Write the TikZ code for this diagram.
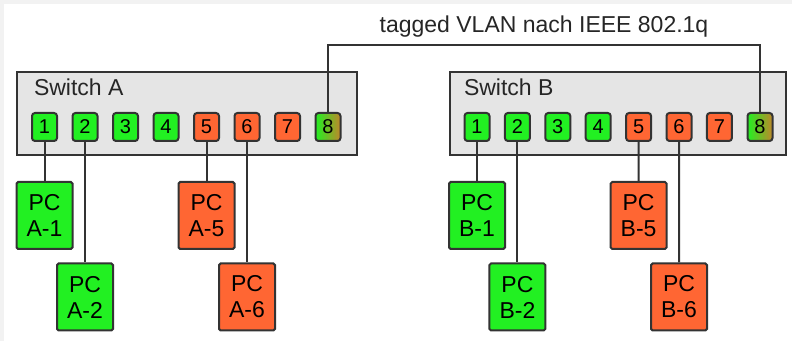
\documentclass[tikz,border=0pt]{standalone}
\usepackage{fontspec}
\setmainfont{Liberation Sans}
\usetikzlibrary{positioning}

\definecolor{pcgreen}{HTML}{22F022}
\definecolor{pcorange}{HTML}{FF6633}
\definecolor{tagbrown}{HTML}{C0862A}

\begin{document}
\begin{tikzpicture}[x=0.5pt,y=-0.5pt,line width=1pt,
	switch node/.style={draw=black!80,fill=black!10,minimum height=41.5pt,inner sep=0pt},
	port node/.style={draw=black!80,rounded corners=1.5pt,minimum width=12.5pt,
		minimum height=14pt,inner sep=0pt,font=\fontsize{10}{11}\selectfont},
	pc node/.style={draw=black!80,rounded corners=0.8pt,minimum width=28pt,
		minimum height=33.5pt,inner sep=0pt,align=center,font=\fontsize{11.5}{13}\selectfont},
	label node/.style={inner sep=0pt,font=\fontsize{11.5}{13}\selectfont,text=black!85}]

	% background
	\fill[black!5] (0,0) rectangle (792,341);
	\fill[white] (4,4) rectangle (792,341);
	\useasboundingbox (0,0) rectangle (792,341);

	% switches
	\node[switch node,minimum width=170pt] (swa) at (187,113.5) {};
	\node[switch node,minimum width=168pt] (swb) at (618,113.5) {};
	\node[label node,anchor=west] (swatxt) at (33,87) {Switch A};
	\node[label node,anchor=west] (swbtxt) at (463,87) {Switch B};

	% ports
	\foreach \i in {1,...,4} {
		\node[port node,fill=pcgreen] (a\i) at ({44.5+40.5*(\i-1)},127) {\i};
		\node[port node,fill=pcgreen] (b\i) at ({477+40.4*(\i-1)},127) {\i};
	}
	\foreach \i in {5,6,7} {
		\node[port node,fill=pcorange] (a\i) at ({44.5+40.5*(\i-1)},127) {\i};
		\node[port node,fill=pcorange] (b\i) at ({477+40.4*(\i-1)},127) {\i};
	}
	\node[port node,left color=pcgreen,right color=tagbrown] (a8) at (328,127) {8};
	\node[port node,left color=pcgreen,right color=tagbrown] (b8) at (760,127) {8};

	% PCs
	\node[pc node,fill=pcgreen] (pca1) at (44.5,215.5) {PC\\A-1};
	\node[pc node,fill=pcgreen] (pca2) at (85,297) {PC\\A-2};
	\node[pc node,fill=pcorange] (pca5) at (206.5,215.5) {PC\\A-5};
	\node[pc node,fill=pcorange] (pca6) at (247,297) {PC\\A-6};
	\node[pc node,fill=pcgreen] (pcb1) at (477,215.5) {PC\\B-1};
	\node[pc node,fill=pcgreen] (pcb2) at (517.4,297) {PC\\B-2};
	\node[pc node,fill=pcorange] (pcb5) at (638.6,215.5) {PC\\B-5};
	\node[pc node,fill=pcorange] (pcb6) at (679,297) {PC\\B-6};

	% trunk
	\coordinate (tag) at (544,45);
	\node[label node,anchor=base] (tagtxt) at (544,33) {tagged VLAN nach IEEE 802.1q};

	\path[draw=black!80]
	(a1) edge (pca1)
	(a2) edge (pca2)
	(a5) edge (pca5)
	(a6) edge (pca6)
	(b1) edge (pcb1)
	(b2) edge (pcb2)
	(b5) edge (pcb5)
	(b6) edge (pcb6);
	\draw[black!80] (a8) |- (tag) -| (b8);
\end{tikzpicture}
\end{document}
